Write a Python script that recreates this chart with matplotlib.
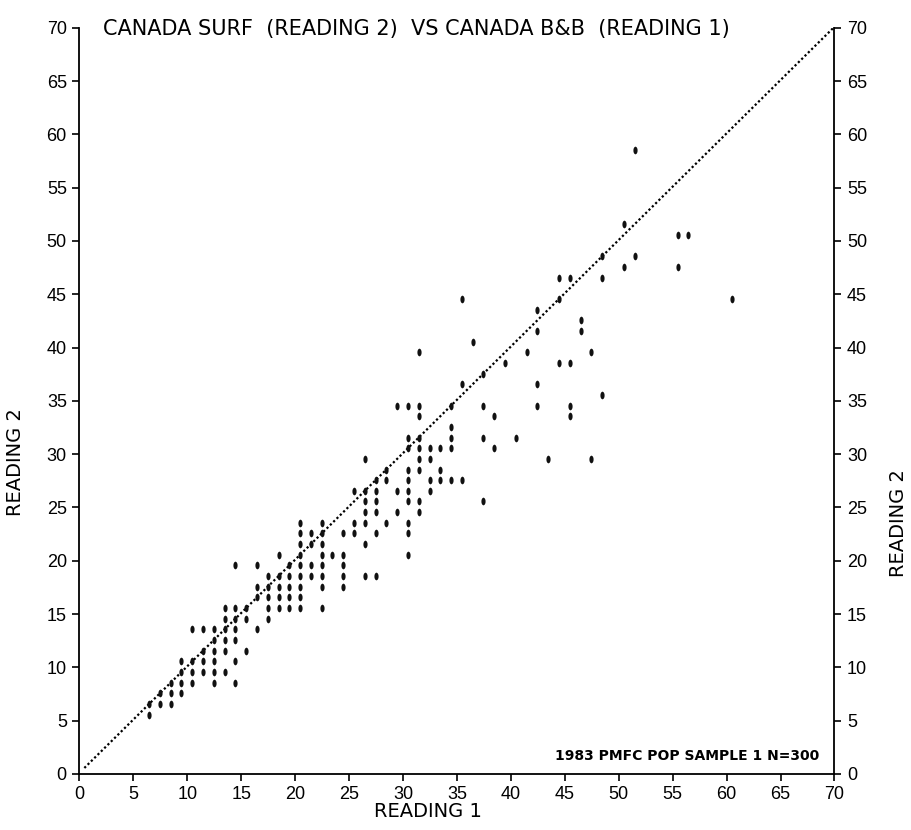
import numpy as np
import matplotlib
matplotlib.use("Agg")
import matplotlib.pyplot as plt
from matplotlib.markers import MarkerStyle
from matplotlib.transforms import Affine2D, ScaledTranslation

# reading 2 value of each row, and the reading 1 values seen on that row
r2_rows = [5, 6, 7, 8, 9, 10, 11, 12, 13, 14, 15, 16, 17, 18, 19, 20, 21, 22, 23, 24,
           25, 26, 27, 28, 29, 30, 31, 32, 33, 34, 35, 36, 37, 38, 39, 40, 41, 42, 43,
           44, 46, 47, 48, 50, 51, 58]
r1_in_row = [
    [6],
    [6, 7, 8],
    [7, 8, 9],
    [8, 9, 10, 12, 14],
    [9, 10, 11, 12, 13],
    [9, 10, 11, 12, 14],
    [11, 12, 13, 15],
    [12, 13, 14],
    [10, 11, 12, 13, 14, 16],
    [13, 14, 15, 17],
    [13, 14, 15, 17, 18, 19, 20, 22],
    [16, 17, 18, 19, 20],
    [16, 17, 18, 19, 20, 22, 24],
    [17, 18, 19, 20, 21, 22, 24, 26, 27],
    [14, 16, 19, 20, 21, 22, 24],
    [18, 20, 22, 23, 24, 30],
    [20, 21, 22, 26],
    [20, 21, 22, 24, 25, 27, 30],
    [20, 22, 25, 26, 28, 30],
    [26, 27, 29, 31],
    [26, 27, 30, 31, 37],
    [25, 26, 27, 29, 30, 32],
    [27, 28, 30, 32, 33, 34, 35],
    [28, 30, 31, 33],
    [26, 31, 32, 43, 47],
    [30, 31, 32, 33, 34, 38],
    [30, 31, 34, 37, 40],
    [34],
    [31, 38, 45],
    [29, 30, 31, 34, 37, 42, 45],
    [48],
    [35, 42],
    [37],
    [39, 44, 45],
    [31, 41, 47],
    [36],
    [42, 46],
    [46],
    [42],
    [35, 44, 60],
    [44, 45, 48],
    [50, 55],
    [48, 51],
    [55, 56],
    [50],
    [51],
]
ticks = list(range(0, 75, 5))
title = "CANADA SURF  (READING 2)  VS CANADA B&B  (READING 1)"
note = "1983 PMFC POP SAMPLE 1 N=300"

reading1 = []
reading2 = []
for y, xs in zip(r2_rows, r1_in_row):
    for x in xs:
        reading1.append(x)
        reading2.append(y)

plt.rcParams['font.family'] = ['Liberation Sans', 'DejaVu Sans']

fig = plt.figure(figsize=(9.12, 8.30), dpi=100)
ax = fig.add_axes([0.087, 0.0675, 0.828, 0.899])

# the plotter put each character a little up and right of its point
shift = ax.transData + ScaledTranslation(5/100., 6/100., fig.dpi_scale_trans)

ax.plot([0, 70], [0, 70], color='black', linestyle=(0, (1, 1.1)), linewidth=1.6,
        transform=shift)

mk = MarkerStyle('o', transform=Affine2D().scale(0.55, 1.0))
ax.scatter(reading1, reading2, marker=mk, s=30, color='#111111', linewidths=0,
           zorder=3, transform=shift)

ax.set_xlim(0, 70)
ax.set_ylim(0, 70)
ax.set_xticks(ticks)
ax.set_yticks(ticks)
ax.spines['top'].set_visible(False)
for s in ['left', 'bottom', 'right']:
    ax.spines[s].set_linewidth(1.3)
ax.tick_params(direction='out', length=5, width=1.2, labelsize=13, pad=4)
ax.tick_params(axis='y', right=True, labelright=True)

fig.text(0.469, 0.0217, "READING 1", fontsize=14, family='DejaVu Sans',
         ha='center', va='center')
fig.text(0.017, 0.443, "READING 2", rotation=90, fontsize=14, family='DejaVu Sans',
         ha='center', va='center')
fig.text(0.985, 0.37, "READING 2", rotation=90, fontsize=14, family='DejaVu Sans',
         ha='center', va='center')

fig.text(0.113, 0.965, title, fontsize=15, family='DejaVu Sans', ha='left', va='center')
ax.text(0.98, 0.024, note, transform=ax.transAxes, fontsize=10, fontweight='bold',
        family='DejaVu Sans', ha='right', va='center')

fig.savefig("out.png", dpi=100)
